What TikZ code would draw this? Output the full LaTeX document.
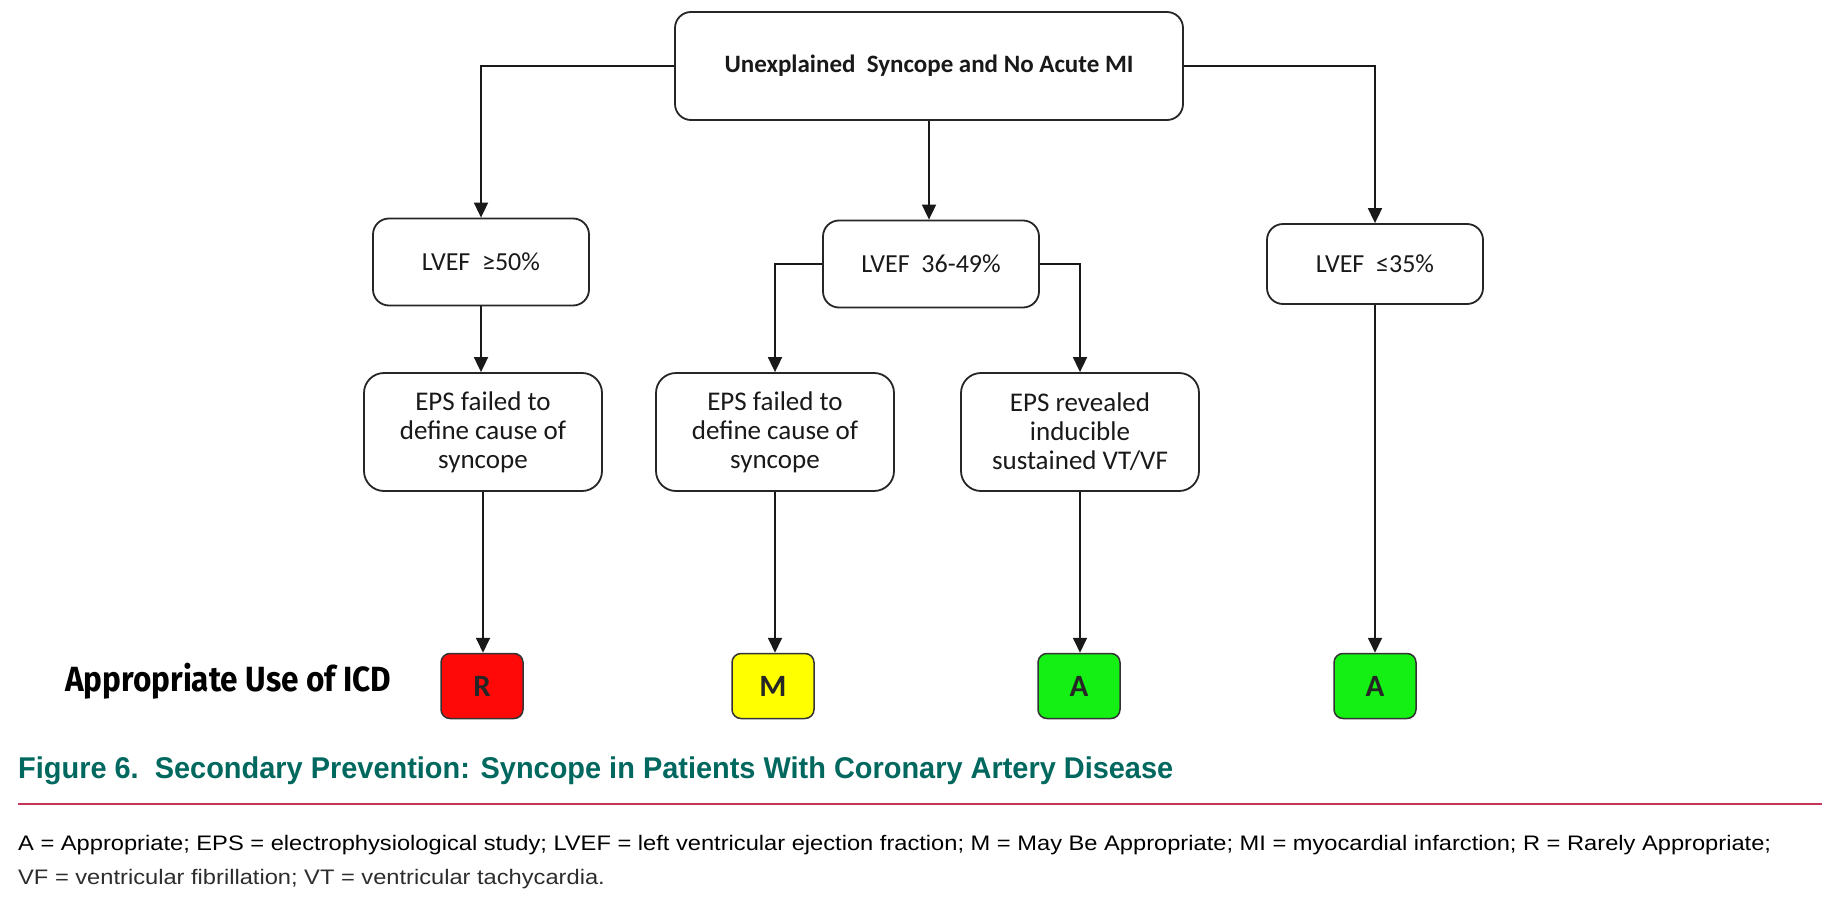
\documentclass[tikz,border=0pt]{standalone}
\usepackage{fontspec}
\usepackage{graphicx}
\usetikzlibrary{arrows.meta}
\setmainfont{Carlito}
\newfontfamily\capfont{Liberation Sans}
\newfontfamily\dinfont{Fira Sans}
\newsavebox\fnA
\newlength\fnAwd
\definecolor{capteal}{RGB}{0,104,94}
\definecolor{rulered}{RGB}{196,54,88}
\definecolor{fngray}{RGB}{45,45,45}
\definecolor{resred}{RGB}{255,8,8}
\definecolor{resyellow}{RGB}{255,255,0}
\definecolor{resgreen}{RGB}{20,240,20}
\begin{document}
\sbox\fnA{\capfont\fontsize{21}{22}\selectfont A = Appropriate; EPS = electrophysiological study; LVEF = left ventricular ejection fraction; M = May Be Appropriate; MI = myocardial infarction; R = Rarely Appropriate;}%
\setlength\fnAwd{\wd\fnA}%
\pgfmathsetmacro\fnscale{1753/\the\fnAwd}%
\begin{tikzpicture}[x=1pt,y=-1pt,
  box/.style={draw=black!85, line width=1.8pt, rounded corners=16pt, align=center, inner sep=0pt, text=black!90},
  topbox/.style={box, minimum width=508pt, minimum height=108pt, font=\bfseries\fontsize{25}{28}\selectfont},
  lvbox/.style={box, minimum width=216pt, minimum height=87pt, font=\fontsize{26}{28}\selectfont},
  epsbox/.style={box, rounded corners=20pt, minimum width=238pt, minimum height=118pt, font=\fontsize{27}{29}\selectfont},
  res/.style={draw=black!80, line width=1.5pt, rounded corners=9pt, minimum width=82pt, minimum height=65pt, inner sep=0pt, font=\bfseries\fontsize{31}{31}\selectfont, text=black!85},
  arr/.style={line width=1.8pt, draw=black!90, -{Triangle[length=15pt,width=14pt]}}]
\path[use as bounding box, fill=white] (0,0) rectangle (1840,902);
% nodes
\node[topbox] (top) at (929,66) {Unexplained\ \ Syncope and No Acute MI};
\node[lvbox] (lv1) at (481,262) {LVEF\ \ ≥50\%};
\node[lvbox] (lv2) at (931,264) {LVEF\ \ 36-49\%};
\node[lvbox, minimum height=80pt] (lv3) at (1375,264) {LVEF\ \ ≤35\%};
\node[epsbox] (e1) at (483,432) {EPS failed to\\define cause of\\syncope};
\node[epsbox] (e2) at (775,432) {EPS failed to\\define cause of\\syncope};
\node[epsbox] (e3) at (1080,432) {EPS revealed\\inducible\\sustained VT/VF};
\node[res, fill=resred] (r1) at (482,686) {R};
\node[res, fill=resyellow] (r2) at (773,686) {M};
\node[res, fill=resgreen] (r3) at (1079,686) {A};
\node[res, fill=resgreen] (r4) at (1375,686) {A};
% connectors
\draw[arr] (top.west) -| (lv1.north);
\draw[arr] (top.east) -| (lv3.north);
\draw[arr] (top.south) -- (top.south |- lv2.north);
\draw[arr] (lv1.south) -- (lv1.south |- e1.north);
\draw[arr] (lv2.west) -| (e2.north);
\draw[arr] (lv2.east) -| (e3.north);
\draw[arr] (e1.south) -- (e1.south |- r1.north);
\draw[arr] (e2.south) -- (e2.south |- r2.north);
\draw[arr] (e3.south) -- (e3.south |- r3.north);
\draw[arr] (lv3.south) -- (lv3.south |- r4.north);
% labels
\node[anchor=west, inner sep=0pt] (icd) at (65,681) {\resizebox{326pt}{\height}{\dinfont\bfseries\fontsize{35}{36}\selectfont Appropriate Use of ICD}};
\node[anchor=base west, inner sep=0pt, text=capteal] (cap) at (18,778) {\resizebox{1155pt}{\height}{\capfont\bfseries\fontsize{30}{32}\selectfont Figure 6.\ \ Secondary Prevention: Syncope in Patients With Coronary Artery Disease}};
\coordinate (rl) at (18,804);
\coordinate (rr) at (1822,804);
\draw[rulered, line width=2pt] (rl) -- (rr);
\node[anchor=base west, inner sep=0pt, text=fngray] (fn1) at (18,850) {\scalebox{\fnscale}[1]{\usebox\fnA}};
\node[anchor=base west, inner sep=0pt, text=fngray] (fn2) at (18,884) {\scalebox{\fnscale}[1]{\capfont\fontsize{21}{22}\selectfont VF = ventricular fibrillation; VT = ventricular tachycardia.}};
\end{tikzpicture}
\end{document}
